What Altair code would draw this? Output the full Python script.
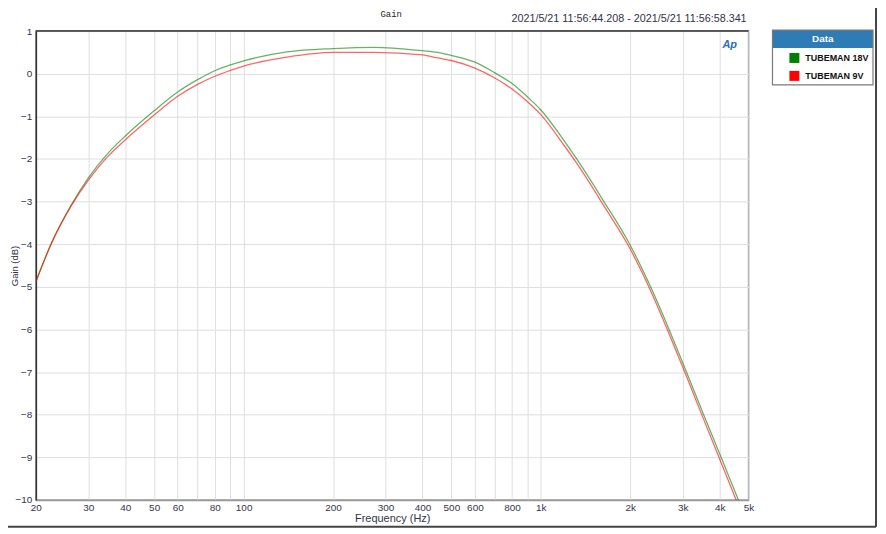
import altair as alt
import pandas as pd

# ---- data ----
freq_hz = [20, 22.6, 26.3, 30, 34.5, 40, 50, 60, 70, 80, 100, 140, 200, 275, 400,
           450, 500, 600, 700, 800, 900, 1000, 1200, 1320, 1630, 1990, 2340, 2700, 3090,
           3530, 4040, 4620]
gain_18v = [-4.88, -3.96, -3.08, -2.45, -1.91, -1.46, -0.87, -0.43, -0.14, 0.07, 0.30,
            0.51, 0.59, 0.62, 0.54, 0.50, 0.43, 0.27, 0.02, -0.23, -0.54, -0.85, -1.58,
            -2.00, -3.00, -4.00, -5.00, -6.00, -7.00, -8.00, -9.00, -10.00]
gain_9v = [-4.88, -3.97, -3.10, -2.50, -1.98, -1.55, -0.97, -0.53, -0.25, -0.06, 0.18,
           0.39, 0.50, 0.50, 0.44, 0.37, 0.31, 0.13, -0.10, -0.36, -0.65, -0.96, -1.69,
           -2.10, -3.10, -4.09, -5.09, -6.10, -7.10, -8.11, -9.12, -10.13]
series_names = ["TUBEMAN 18V", "TUBEMAN 9V"]
series_colors = ["#008000", "#ff0000"]
x_grid_values = [20, 30, 40, 50, 60, 70, 80, 90, 100, 200, 300, 400, 500, 600, 700,
                 800, 900, 1000, 2000, 3000, 4000, 5000]
y_values = list(range(-10, 2))
chart_title = "Gain"
time_range = "2021/5/21 11:56:44.208 - 2021/5/21 11:56:58.341"

rows = []
for name, gains in zip(series_names, [gain_18v, gain_9v]):
    for f, g in zip(freq_hz, gains):
        rows.append({"freq": f, "gain": g, "series": name})
df = pd.DataFrame(rows)

W, H = 716, 471
FONT = "Liberation Sans"
TXT = "#33334a"

label_expr = ("indexof([70, 90, 700, 900], datum.value) >= 0 ? '' : "
              "(datum.value >= 1000 ? format(datum.value / 1000, 'd') + 'k' : format(datum.value, 'd'))")

lines = alt.Chart(df).mark_line(strokeWidth=1.3, opacity=0.6, clip=True,
                                interpolate="monotone").encode(
    x=alt.X("freq:Q",
            scale=alt.Scale(type="log", domain=[20, 5000], nice=False),
            axis=alt.Axis(values=x_grid_values, labelExpr=label_expr, title="Frequency (Hz)",
                          ticks=False, labelOverlap=False, labelFlush=False, grid=True,
                          labelPadding=3, titlePadding=0, titleFontSize=11,
                          domainColor="#999999", domainWidth=1.5)),
    y=alt.Y("gain:Q",
            scale=alt.Scale(domain=[-10, 1], nice=False),
            axis=alt.Axis(values=y_values, title="Gain (dB)", ticks=False, grid=True,
                          labelPadding=4, labelOverlap=False, labelFlush=False,
                          titleX=-21, titleY=H / 2, titleAlign="center",
                          titleBaseline="middle", titleAngle=270, titleFontSize=9.5,
                          domainColor="#333333", domainWidth=1.5)),
    color=alt.Color("series:N",
                    scale=alt.Scale(domain=series_names, range=series_colors),
                    legend=alt.Legend(
                        title=None, orient="none", legendX=757, legendY=22,
                        symbolType="square", symbolSize=25, symbolStrokeWidth=5,
                        symbolOpacity=1, labelFont=FONT,
                        labelFontSize=9, labelFontWeight="bold", labelColor="#111111",
                        labelOffset=6, rowPadding=-8, padding=0)),
)

deco = alt.Chart(alt.Data(values=[{}]))

top_border = deco.mark_rule(color="#333333", strokeWidth=1.5).encode(
    x=alt.value(0), x2=alt.value(W), y=alt.value(0))

header_rect = deco.mark_rect(color="#2e7bb6").encode(
    x=alt.value(740), x2=alt.value(841), y=alt.value(-1), y2=alt.value(17))
box_rect = deco.mark_rect(fillOpacity=0, stroke="#7a7a7a", strokeWidth=1.2).encode(
    x=alt.value(740), x2=alt.value(841), y=alt.value(-1), y2=alt.value(54))
header_text = deco.mark_text(text="Data", font=FONT, fontSize=10, fontWeight="bold",
                             color="white", baseline="middle").encode(
    x=alt.value(790.5), y=alt.value(8))

title_text = deco.mark_text(text=chart_title, font="Liberation Mono", fontSize=9,
                            color="#222222", baseline="middle").encode(
    x=alt.value(357), y=alt.value(-17))
ts_text = deco.mark_text(text=time_range, font=FONT, fontSize=10.8, color=TXT,
                         align="right", baseline="middle").encode(
    x=alt.value(714), y=alt.value(-12))
logo = deco.mark_text(text="Ap", font=FONT, fontSize=11, fontWeight="bold",
                      fontStyle="italic", color="#2a6ebb", baseline="middle").encode(
    x=alt.value(697), y=alt.value(14))

frame_right = deco.mark_rule(color="#444444", strokeWidth=2).encode(
    x=alt.value(844), y=alt.value(-30), y2=alt.value(498))
frame_bottom = deco.mark_rule(color="#444444", strokeWidth=2).encode(
    x=alt.value(-36), x2=alt.value(844), y=alt.value(498))

chart = alt.layer(
    lines, top_border, header_rect, box_rect, header_text, title_text, ts_text, logo,
    frame_right, frame_bottom
).properties(
    width=W, height=H,
    autosize=alt.AutoSizeParams(type="none"),
    padding={"left": 28, "top": 22, "right": 130, "bottom": 29},
    background="white",
).configure_view(
    stroke="#999999", strokeWidth=1.5
).configure_axis(
    gridColor="#dedede", gridWidth=1,
    labelFont=FONT, labelFontSize=10, labelColor=TXT,
    titleFont=FONT, titleFontWeight="normal", titleColor=TXT,
)

chart.save("out.html", embed_options={"renderer": "svg", "actions": False})
